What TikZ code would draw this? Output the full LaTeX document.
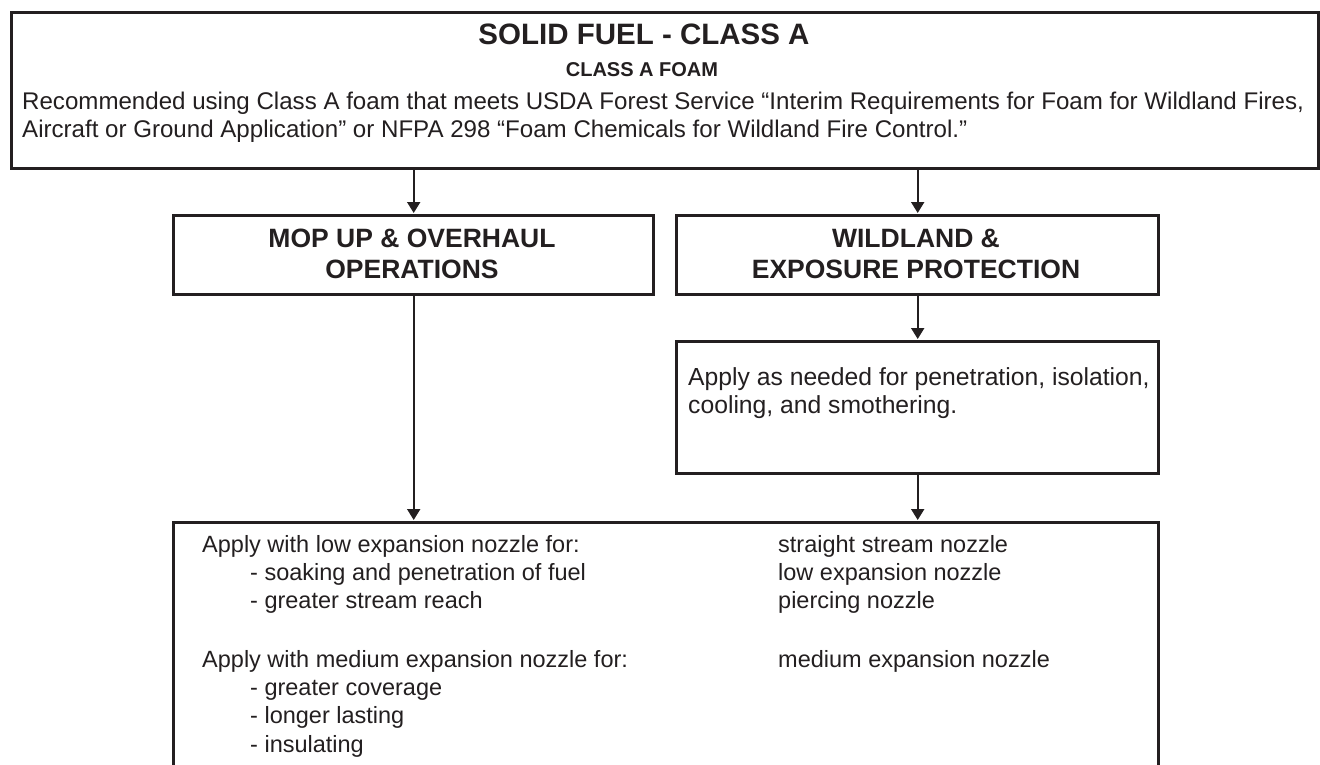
\documentclass[tikz,border=0pt]{standalone}
\usepackage{fontspec}
\setmainfont{Liberation Sans}
\usetikzlibrary{arrows.meta}
\definecolor{ink}{HTML}{231F20}
\begin{document}
\begin{tikzpicture}[x=1pt,y=-1pt,
  box/.style={draw=ink, line width=3.4pt, inner sep=0pt, anchor=north west},
  arr/.style={draw=ink, line width=2pt, -{Triangle[length=11pt,width=13pt]}, shorten >=1pt},
  txt/.style={text=ink, inner sep=0pt, font=\fontsize{23.5}{28}\selectfont},
  hd/.style={text=ink, inner sep=0pt, align=center, font=\bfseries\fontsize{26.5}{31}\selectfont}]
\useasboundingbox (0,0) rectangle (1320,765);
\fill[white] (0,0) rectangle (1320,765);
% boxes
\node[box, minimum width=1307pt, minimum height=156pt] (top) at (10,11) {};
\node[box, minimum width=480pt, minimum height=79pt] (midL) at (172,214) {};
\node[box, minimum width=482pt, minimum height=79pt] (midR) at (675,214) {};
\node[box, minimum width=482pt, minimum height=132pt] (apply) at (675,340) {};
\node[box, minimum width=985pt, minimum height=300pt] (bot) at (172,521) {};
% connectors
\draw[arr] (top.south -| midL.north) -- (midL.north);
\draw[arr] (top.south -| midR.north) -- (midR.north);
\draw[arr] (midR.south) -- (apply.north);
\draw[arr] (apply.south) -- (bot.north -| apply.south);
\draw[arr] (midL.south) -- (bot.north -| midL.south);
% top texts
\node[text=ink, inner sep=0pt, anchor=base, font=\bfseries\fontsize{29.5}{34}\selectfont] (title) at (644,45) {SOLID FUEL - CLASS A};
\node[text=ink, inner sep=0pt, anchor=base, font=\bfseries\fontsize{20}{24}\selectfont] (sub) at (642,77) {CLASS A FOAM};
\node[txt, anchor=base west, font=\fontsize{24.1}{28}\selectfont] (b1) at (22,110) {Recommended using Class A foam that meets USDA Forest Service “Interim Requirements for Foam for Wildland Fires,};
\node[txt, anchor=base west, font=\fontsize{24.1}{28}\selectfont] (b2) at (22,138) {Aircraft or Ground Application” or NFPA 298 “Foam Chemicals for Wildland Fire Control.”};
% mid texts
\node[hd, anchor=base] (mopA) at (412,247) {MOP UP \& OVERHAUL};
\node[hd, anchor=base] (mopB) at (412,278) {OPERATIONS};
\node[hd, anchor=base] (wA) at (916,247) {WILDLAND \&};
\node[hd, anchor=base] (wB) at (916,278) {EXPOSURE PROTECTION};
% apply text
\node[txt, anchor=base west, font=\fontsize{24.7}{28}\selectfont] (ap1) at (688,385) {Apply as needed for penetration, isolation,};
\node[txt, anchor=base west, font=\fontsize{24.7}{28}\selectfont] (ap2) at (688,413) {cooling, and smothering.};
% bottom texts
\node[txt, anchor=base west] (l1) at (202,552) {Apply with low expansion nozzle for:};
\node[txt, anchor=base west] (l2) at (250,580) {- soaking and penetration of fuel};
\node[txt, anchor=base west] (l3) at (250,608) {- greater stream reach};
\node[txt, anchor=base west] (l4) at (202,667) {Apply with medium expansion nozzle for:};
\node[txt, anchor=base west] (l5) at (250,695) {- greater coverage};
\node[txt, anchor=base west] (l6) at (250,723) {- longer lasting};
\node[txt, anchor=base west] (l7) at (250,752) {- insulating};
\node[txt, anchor=base west] (r1) at (778,552) {straight stream nozzle};
\node[txt, anchor=base west] (r2) at (778,580) {low expansion nozzle};
\node[txt, anchor=base west] (r3) at (778,608) {piercing nozzle};
\node[txt, anchor=base west] (r4) at (778,667) {medium expansion nozzle};
\end{tikzpicture}
\end{document}
